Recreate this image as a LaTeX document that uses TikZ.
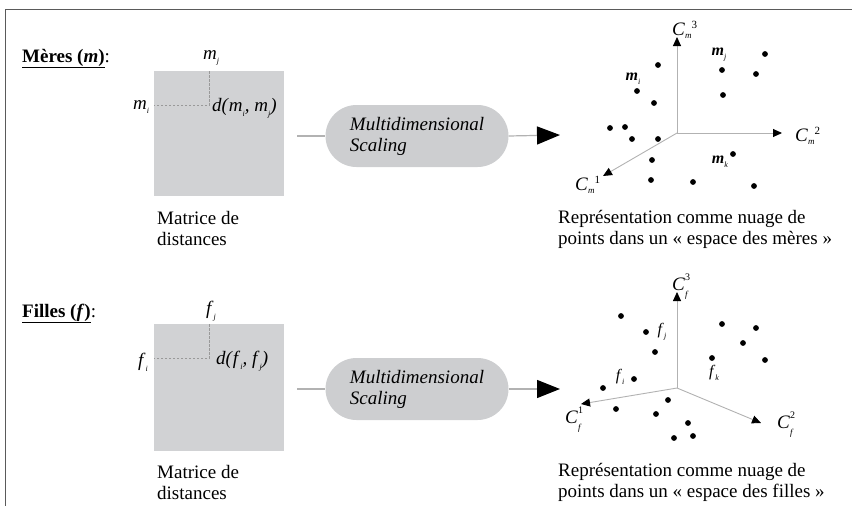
\documentclass[tikz,border=0pt]{standalone}
\usepackage{fontspec}
\setmainfont{Liberation Serif}
\usetikzlibrary{arrows.meta}
\definecolor{matgray}{RGB}{209,210,212}
\definecolor{pillgray}{RGB}{205,206,208}
\definecolor{linegray}{RGB}{178,178,178}
\definecolor{framegray}{RGB}{90,90,90}
\newcommand\labA[3]{\textit{#1}\raisebox{-0.2em}{\fontsize{9}{9}\selectfont\textit{#2}}\raisebox{0.35em}{\fontsize{11}{11}\selectfont #3}}
\newcommand\labB[3]{\textit{#1}\rlap{\raisebox{0.5em}{\fontsize{10}{10}\selectfont #3}}\raisebox{-0.38em}{\fontsize{9}{9}\selectfont\textit{#2}}}
\newcommand\msub[2]{#1\raisebox{-0.25em}{\fontsize{8}{8}\selectfont\textit{#2}}}
\begin{document}
\begin{tikzpicture}[x=1pt,y=-1pt,
  font=\fontsize{19}{21}\selectfont,
  mat/.style={fill=matgray, minimum width=130pt, inner sep=0pt},
  pill/.style={fill=pillgray, rounded corners=31pt, minimum width=183pt, minimum height=62pt, align=left, inner sep=0pt, font=\fontsize{19}{21}\selectfont\itshape},
  conn/.style={draw=linegray, line width=1.2pt},
  bigtip/.style={-{Triangle[length=23pt,width=18pt,black]}},
  axis/.style={draw=linegray, line width=0.9pt, -{Triangle[length=9pt,width=8pt,black]}},
  dashline/.style={draw=gray!80, line width=0.6pt, dash pattern=on 2.5pt off 1.5pt},
  framel/.style={draw=framegray, line width=1.6pt},
  lbl/.style={inner sep=0pt},
  captxt/.style={inner sep=0pt, anchor=base west, align=left},
  dotlbl/.style={inner sep=0pt, font=\fontsize{16}{16}\selectfont}]
\useasboundingbox (0,0) rectangle (852,506);
% frame
\draw[framel] (852,9.5) -- (5.5,9.5) -- (5.5,506);

% ===== Meres =====
\node[captxt] (hm) at (22,62) {\underline{\textbf{Mères (\textit{m})}}:};
\node[mat, minimum height=125pt] (m1) at (219,133.5) {};
\draw[dashline] (209,71) -- (209,105) -- (154,105);
\node[lbl] (mj) at (211,58) {\msub{\textit{m}}{j}};
\node[lbl] (mi) at (141,107) {\msub{\textit{m}}{i}};
\node[lbl, anchor=west] (dm) at (212,108) {\textit{d(}\msub{\textit{m}}{i}\textit{, }\msub{\textit{m}}{j}\textit{)}};
\node[captxt] (cm1) at (157,245) {Matrice de\\distances};
\node[pill] (p1) at (417,136) {Multidimensional\\Scaling};
\coordinate (a1) at (560,135);
\draw[conn] (p1.west -| m1.east) ++(13,0) -- (p1.west);
\draw[conn, bigtip] (p1.east) -- (a1);
% axes
\coordinate (o1) at (677,133);
\coordinate (x1a) at (603,176);
\coordinate (x1b) at (782,133);
\coordinate (x1c) at (677,37);
\draw[axis] (o1) -- (x1a);
\draw[axis] (o1) -- (x1b);
\draw[axis] (o1) -- (x1c);
\node[lbl, anchor=base west] (c13) at (672,35) {\labA{C}{m}{3}};
\node[lbl, anchor=base west] (c12) at (795,141) {\labA{C}{m}{2}};
\node[lbl, anchor=base west] (c11) at (575,190) {\labA{C}{m}{1}};
\foreach \p in {(658,65),(637,91),(654,103),(722,70),(765,54),(756,74),(723,95),(610,128),(625,127),(632,139),(658,139),(652,160),(733,154),(651,180),(693,182),(754,186)}
  \fill \p circle (2.9pt);
\node[dotlbl] (lmi) at (633,79) {\msub{\textbf{\textit{m}}}{i}};
\node[dotlbl] (lmj) at (719,55) {\msub{\textbf{\textit{m}}}{j}};
\node[dotlbl] (lmk) at (720,162) {\msub{\textbf{\textit{m}}}{k}};
\node[captxt] (cm2) at (558,244) {Représentation comme nuage de\\points dans un « espace des mères »};

% ===== Filles =====
\node[captxt] (hf) at (22,317) {\underline{\textbf{Filles (\textit{f})}}:};
\node[mat, minimum height=127pt] (m2) at (219,387.5) {};
\draw[dashline] (209,324) -- (209,358) -- (154,358);
\node[lbl] (fj) at (211,311) {\msub{\textit{f}}{j}};
\node[lbl] (fi) at (143,362) {\msub{\textit{f}}{i}};
\node[lbl, anchor=west] (df) at (216,361) {\textit{d(}\msub{\textit{f}}{i}\textit{, }\msub{\textit{f}}{j}\textit{)}};
\node[captxt] (cf1) at (157,499) {Matrice de\\distances};
\node[pill] (p2) at (417,389) {Multidimensional\\Scaling};
\coordinate (a2) at (560,389);
\draw[conn] (p2.west -| m2.east) ++(13,0) -- (p2.west);
\draw[conn, bigtip] (p2.east) -- (a2);
\coordinate (o2) at (677,388);
\coordinate (x2a) at (581,404);
\coordinate (x2b) at (761,423);
\coordinate (x2c) at (677,292);
\draw[axis] (o2) -- (x2a);
\draw[axis] (o2) -- (x2b);
\draw[axis] (o2) -- (x2c);
\node[lbl, anchor=base west] (c23) at (672,290) {\labB{C}{f}{3}};
\node[lbl, anchor=base west] (c21) at (565,423) {\labB{C}{f}{1}};
\node[lbl, anchor=base west] (c22) at (777,428) {\labB{C}{f}{2}};
\foreach \p in {(621,316),(646,332),(655,352),(634,379),(603,388),(616,409),(668,400),(656,414),(688,423),(674,438),(693,436),(722,324),(756,328),(743,343),(712,358),(765,360)}
  \fill \p circle (2.9pt);
\node[dotlbl] (lfj) at (662,332) {\msub{\textit{f}}{j}};
\node[dotlbl] (lfi) at (620,377) {\msub{\textit{f}}{i}};
\node[dotlbl] (lfk) at (714,373) {\msub{\textit{f}}{k}};
\node[captxt] (cf2) at (558,497) {Représentation comme nuage de\\points dans un « espace des filles »};
\end{tikzpicture}
\end{document}
